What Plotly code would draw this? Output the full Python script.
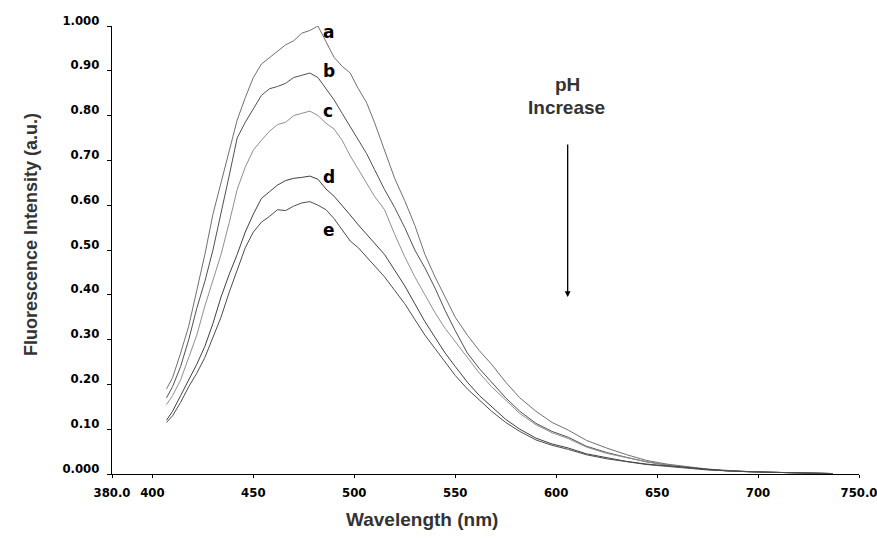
import plotly.graph_objects as go

# ---------------- data ----------------
wavelength = [407, 410, 414, 418, 422, 426, 430, 434, 438, 442, 446, 450, 454, 458, 462, 466,
              470, 474, 478, 482, 486, 490, 494, 498, 502, 506, 510, 515, 520, 525, 530, 535,
              540, 545, 550, 556, 562, 568, 575, 582, 590, 598, 606, 615, 625, 635, 645, 655,
              665, 675, 685, 695, 705, 715, 725, 737]

curve_a = [0.19, 0.215, 0.27, 0.33, 0.41, 0.49, 0.58, 0.65, 0.72, 0.79, 0.84, 0.885, 0.915, 0.93, 0.945, 0.958,
           0.967, 0.984, 0.99, 1.0, 0.965, 0.93, 0.91, 0.895, 0.86, 0.83, 0.785, 0.72, 0.66, 0.61, 0.555, 0.49,
           0.44, 0.395, 0.35, 0.31, 0.275, 0.245, 0.205, 0.17, 0.14, 0.115, 0.098, 0.075, 0.058, 0.043, 0.03, 0.022,
           0.016, 0.011, 0.008, 0.005, 0.004, 0.003, 0.002, 0.001]

curve_b = [0.17, 0.195, 0.24, 0.30, 0.37, 0.43, 0.50, 0.58, 0.665, 0.75, 0.785, 0.815, 0.845, 0.86, 0.865, 0.872,
           0.885, 0.89, 0.895, 0.885, 0.86, 0.835, 0.805, 0.775, 0.745, 0.716, 0.68, 0.635, 0.595, 0.55, 0.50, 0.46,
           0.415, 0.365, 0.32, 0.27, 0.235, 0.205, 0.17, 0.14, 0.113, 0.095, 0.082, 0.062, 0.048, 0.037, 0.027, 0.02,
           0.015, 0.01, 0.007, 0.005, 0.004, 0.003, 0.002, 0.001]

curve_c = [0.155, 0.175, 0.21, 0.26, 0.31, 0.375, 0.43, 0.49, 0.56, 0.635, 0.685, 0.723, 0.745, 0.765, 0.78, 0.785,
           0.80, 0.805, 0.81, 0.80, 0.783, 0.77, 0.745, 0.71, 0.68, 0.649, 0.62, 0.59, 0.535, 0.485, 0.44, 0.40,
           0.36, 0.325, 0.295, 0.26, 0.225, 0.195, 0.165, 0.135, 0.11, 0.092, 0.079, 0.06, 0.046, 0.036, 0.027, 0.02,
           0.015, 0.01, 0.007, 0.005, 0.004, 0.003, 0.002, 0.001]

curve_d = [0.12, 0.14, 0.175, 0.21, 0.245, 0.285, 0.336, 0.395, 0.445, 0.49, 0.54, 0.58, 0.615, 0.63, 0.645, 0.655,
           0.66, 0.662, 0.665, 0.658, 0.636, 0.62, 0.60, 0.578, 0.556, 0.535, 0.515, 0.49, 0.455, 0.42, 0.38, 0.34,
           0.305, 0.27, 0.24, 0.205, 0.175, 0.15, 0.122, 0.10, 0.08, 0.067, 0.058, 0.045, 0.036, 0.028, 0.022, 0.018,
           0.014, 0.01, 0.007, 0.005, 0.004, 0.003, 0.002, 0.001]

curve_e = [0.115, 0.13, 0.16, 0.195, 0.225, 0.26, 0.305, 0.35, 0.405, 0.455, 0.505, 0.54, 0.562, 0.575, 0.59, 0.588,
           0.598, 0.605, 0.608, 0.60, 0.59, 0.57, 0.545, 0.52, 0.505, 0.485, 0.465, 0.44, 0.41, 0.38, 0.345, 0.31,
           0.28, 0.25, 0.22, 0.19, 0.165, 0.14, 0.115, 0.095, 0.076, 0.064, 0.055, 0.043, 0.034, 0.027, 0.021, 0.017,
           0.013, 0.009, 0.007, 0.005, 0.004, 0.003, 0.002, 0.001]

series_names = ["a", "b", "c", "d", "e"]
series_values = [curve_a, curve_b, curve_c, curve_d, curve_e]
series_colors = ["#707070", "#505050", "#8f8f8f", "#404040", "#4c4c4c"]

x_tickvals = [380, 400, 450, 500, 550, 600, 650, 700, 750]
x_ticktext = ["380.0", "400", "450", "500", "550", "600", "650", "700", "750.0"]
y_tickvals = [0.0, 0.1, 0.2, 0.3, 0.4, 0.5, 0.6, 0.7, 0.8, 0.9, 1.0]
y_ticktext = ["0.000", "0.10", "0.20", "0.30", "0.40", "0.50", "0.60", "0.70", "0.80", "0.90", "1.000"]

# ---------------- figure ----------------
plot_l, plot_r, plot_t, plot_b = 112, 859, 26, 474
W, H = 877, 541

def px_to_paper(px, py):
    return (px - plot_l) / (plot_r - plot_l), (plot_b - py) / (plot_b - plot_t)

fig = go.Figure()
for name, vals, col in zip(series_names, series_values, series_colors):
    fig.add_trace(go.Scatter(x=wavelength, y=vals, mode="lines", name=name,
                             line=dict(color=col, width=1), showlegend=False))

tick_font = dict(family="DejaVu Sans Condensed, DejaVu Sans", size=13, color="#000000", weight="bold")
title_font = dict(family="Liberation Sans, Arial", size=19, color="#333333", weight="bold")
ytitle_font = dict(family="Liberation Sans, Arial", size=18, color="#333333", weight="bold")
letter_font = dict(family="DejaVu Sans", size=17, color="black", weight="bold")

fig.update_layout(
    width=W, height=H,
    margin=dict(l=plot_l, r=W - plot_r, t=plot_t, b=H - plot_b, autoexpand=False),
    plot_bgcolor="white", paper_bgcolor="white",
    xaxis=dict(range=[380, 750], tickvals=x_tickvals, ticktext=x_ticktext, automargin=False,
               showgrid=False, zeroline=False, showline=True, linecolor="black", linewidth=1,
               ticks="outside", ticklen=3, tickcolor="black", tickfont=tick_font,
               ticklabelstandoff=3, ticklabeloverflow="allow"),
    yaxis=dict(range=[0, 1.0], tickvals=y_tickvals, ticktext=y_ticktext, automargin=False,
               showgrid=False, zeroline=False, showline=True, linecolor="black", linewidth=1,
               ticks="outside", ticklen=4, tickcolor="black", tickfont=tick_font,
               ticklabelstandoff=5, ticklabelshift=-6, ticklabeloverflow="allow"),
)

annotations = []
# curve letters (pixel positions from the reference)
letter_px = [(321, 20), (321, 59), (321, 99), (321, 165), (321, 230)]
for name, (px, py) in zip(series_names, letter_px):
    x, y = px_to_paper(px, py)
    annotations.append(dict(x=x, y=y, xref="paper", yref="paper", text=name, showarrow=False,
                            font=letter_font))
# axis titles
x, y = px_to_paper(422, 532)
annotations.append(dict(x=x, y=y, xref="paper", yref="paper", text="Wavelength (nm)",
                        showarrow=False, font=title_font))
x, y = px_to_paper(19, 235)
annotations.append(dict(x=x, y=y, xref="paper", yref="paper", text="Fluorescence Intensity (a.u.)",
                        showarrow=False, textangle=-90, font=ytitle_font))
# pH increase text and arrow
x, y = px_to_paper(567, 72)
annotations.append(dict(x=x, y=y, xref="paper", yref="paper", text="pH", showarrow=False, font=title_font))
x, y = px_to_paper(566, 95)
annotations.append(dict(x=x, y=y, xref="paper", yref="paper", text="Increase", showarrow=False, font=title_font))
annotations.append(dict(x=605.7, y=0.395, xref="x", yref="y", ax=605.7, ay=0.739, axref="x", ayref="y",
                        text="", showarrow=True, arrowhead=2, arrowsize=0.9, arrowwidth=1.3,
                        arrowcolor="black"))
fig.update_layout(annotations=annotations)

fig.write_html("out.html", config={"displayModeBar": False},
               post_script="document.body.style.margin='0';document.body.style.overflow='hidden';")
